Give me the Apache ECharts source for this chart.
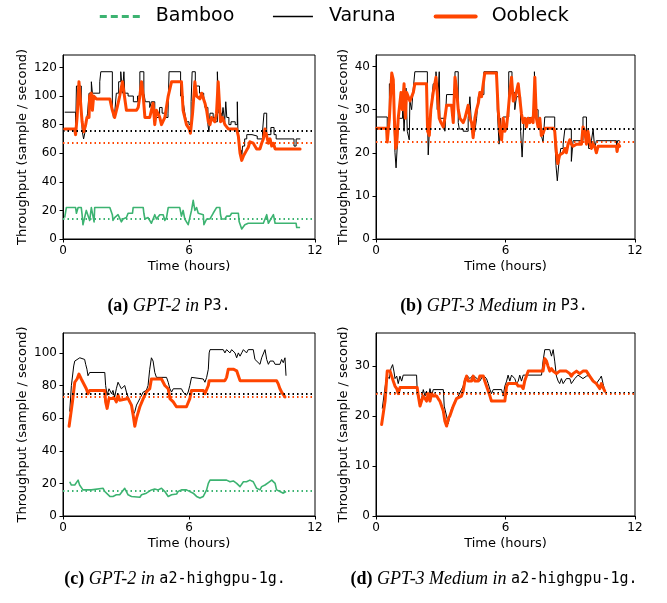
<!DOCTYPE html>
<html>
<head>
<meta charset="utf-8">
<script src="https://cdn.jsdelivr.net/npm/echarts@6/dist/echarts.min.js"></script>
<style>
html,body{margin:0;padding:0;background:#fff;}
#chart{width:667px;height:603px;}
</style>
</head>
<body>
<div id="chart"></div>
<script>
// ---------- data ----------
const seriesNames = ['Bamboo', 'Varuna', 'Oobleck'];
const xTicks = [0, 6, 12];

// (a) GPT-2 in P3
const aVaruna = [[0.08,88.7],[0.60,75],[0.64,107],[0.87,88],[0.92,75],[0.98,70],[1.05,75],[1.10,82],[1.17,88],[1.24,102],[1.35,110],[1.40,102],[1.75,110],[1.80,117],[2.35,92],[2.40,85],[2.46,88],[2.54,102],[2.65,110],[2.75,117],[2.83,102],[2.90,117],[2.94,102],[3.10,100],[3.35,96],[3.55,100],[3.66,117],[3.85,102],[3.92,96],[4.13,92],[4.21,96],[4.37,88],[4.45,85],[4.60,92],[4.72,88],[4.90,85],[5.00,88],[5.05,117],[5.60,100],[5.72,96],[5.80,88],[5.88,82],[6.00,80],[6.10,96],[6.15,117],[6.30,107],[6.50,102],[6.70,100],[6.76,92],[6.90,80],[6.95,75],[7.00,88],[7.15,85],[7.25,82],[7.35,117],[7.42,88],[7.55,82],[7.62,92],[7.70,82],[7.75,96],[7.80,85],[7.90,80],[8.00,82],[8.20,80],[8.30,96],[8.33,75],[8.40,62],[8.50,55],[8.55,65],[8.65,70],[8.75,73],[9.00,72],[9.25,70],[9.50,75],[9.57,88],[9.70,73],[9.90,78],[10.05,73],[10.15,70],[11.00,65],[11.10,70],[11.30,70]];
const aOobleck = [[0.08,77],[0.55,77],[0.60,73],[0.67,85],[0.76,110],[0.84,110],[0.91,82],[0.99,75],[1.08,80],[1.14,85],[1.24,85],[1.27,100],[1.35,102],[1.40,90],[1.46,100],[1.59,98],[2.23,98],[2.35,90],[2.46,85],[2.58,92],[2.70,100],[2.83,110],[2.91,110],[3.02,90],[3.50,90],[3.58,92],[3.66,100],[3.74,110],[3.82,100],[3.90,85],[4.13,85],[4.29,95],[4.37,80],[4.45,90],[4.61,85],[4.69,80],[4.85,85],[4.93,85],[5.01,100],[5.09,105],[5.17,110],[5.64,110],[5.72,90],[5.88,80],[6.01,77],[6.07,74],[6.17,88],[6.28,110],[6.36,100],[6.52,98],[6.60,102],[6.76,95],[6.84,90],[6.92,82],[7.00,80],[7.07,85],[7.23,82],[7.31,88],[7.39,110],[7.50,82],[7.60,85],[7.71,80],[7.87,77],[8.27,77],[8.35,72],[8.43,60],[8.51,55],[8.59,58],[8.74,62],[8.82,64],[8.90,68],[9.06,67],[9.22,63],[9.38,63],[9.46,67],[9.54,70],[9.62,77],[9.70,72],[9.78,67],[9.86,70],[9.94,65],[10.02,67],[10.10,63],[11.29,63]];
const aBamboo = [[0.08,15],[0.16,22],[0.60,22],[0.64,18],[0.72,22],[0.87,22],[0.91,17],[0.95,10],[1.03,15],[1.11,20],[1.19,20],[1.27,13],[1.35,22],[1.43,22],[1.48,12],[1.51,22],[2.23,22],[2.35,17],[2.38,13],[2.46,15],[2.54,15],[2.62,17],[2.70,17],[2.78,12],[2.86,14],[2.94,14],[3.02,15],[3.10,18],[3.31,18],[3.34,22],[3.82,22],[3.85,18],[3.90,14],[4.05,15],[4.13,15],[4.21,11],[4.29,14],[4.37,17],[4.45,14],[4.53,14],[4.61,17],[4.77,17],[4.85,13],[4.93,15],[5.01,22],[5.56,22],[5.64,16],[5.72,20],[5.80,14],[5.88,12],[5.96,10],[6.04,10],[6.12,20],[6.20,27],[6.28,20],[6.36,22],[6.44,18],[6.52,17],[6.68,17],[6.71,10],[6.84,14],[7.00,14],[7.07,15],[7.15,18],[7.31,22],[7.47,22],[7.50,17],[7.55,14],[7.71,14],[7.79,16],[7.95,16],[8.03,18],[8.35,18],[8.39,12],[8.51,7],[8.59,7],[8.66,10],[8.74,10],[8.82,11],[9.54,11],[9.62,14],[9.70,17],[9.78,11],[10.02,17],[10.10,11],[10.30,11],[11.10,11],[11.13,8],[11.29,8]];
const aMeans = [14.5, 75.5, 67];   // Bamboo, Varuna, Oobleck
const aYTicks = [0, 20, 40, 60, 80, 100, 120];

// (b) GPT-3 Medium in P3
const bVaruna = [[0.03,28.3],[0.52,25.5],[0.62,36],[0.83,28],[0.88,20],[0.93,16.5],[0.99,22],[1.03,28],[1.23,34],[1.30,25],[1.39,35],[1.45,25],[1.54,23],[1.57,32],[1.65,30],[1.73,35],[1.80,38.8],[2.38,30],[2.42,19.5],[2.50,28],[2.58,32],[2.65,36],[2.78,38.8],[2.84,30],[2.93,38.8],[2.96,28],[3.19,25],[3.27,33.5],[3.66,38.8],[3.81,27],[3.86,25.5],[4.04,25],[4.27,28],[4.35,33],[4.43,26],[4.50,23.5],[4.58,25],[4.66,28],[4.74,33],[4.81,33.5],[5.00,38.8],[5.62,30],[5.70,22],[5.77,28],[5.80,23],[5.89,28.3],[6.15,38.8],[6.30,34],[6.43,30],[6.51,33],[6.70,25],[6.77,19],[6.86,28],[6.97,28.3],[7.34,38.8],[7.40,30],[7.51,28],[7.59,26],[7.66,24],[7.74,22.5],[7.82,28.3],[8.28,24],[8.34,17],[8.40,13.5],[8.48,18],[8.56,21],[8.67,22],[8.75,25.5],[9.05,18],[9.13,22.8],[9.59,28.3],[9.75,23],[9.85,21],[9.98,22.8],[10.06,25.5],[10.13,21],[10.21,22.8],[11.14,20.5],[11.19,22.8],[11.29,22.8]];
const bOobleck = [[0.03,25.7],[0.49,25.7],[0.52,22.5],[0.62,28],[0.73,38.5],[0.80,37],[0.85,28],[0.91,21],[0.96,22],[1.03,28],[1.11,28],[1.16,34],[1.22,30],[1.30,36],[1.36,28],[1.42,34],[1.57,32],[1.65,33],[1.73,34],[1.80,36],[2.34,36],[2.39,25],[2.47,24],[2.54,30],[2.65,34],[2.78,37.5],[2.84,37.5],[2.93,28],[3.01,27],[3.12,26],[3.19,28],[3.27,31],[3.50,31],[3.58,27],[3.66,37.5],[3.73,35],[3.81,30],[3.89,28],[4.04,27],[4.12,28],[4.27,31],[4.35,28],[4.43,27],[4.50,23.5],[4.58,28],[4.66,30],[4.74,31.5],[4.81,34],[4.89,33],[4.97,36],[5.04,38.5],[5.58,38.5],[5.66,30],[5.74,25],[5.82,23],[5.89,28],[5.97,25],[6.05,26],[6.13,30],[6.20,34],[6.28,37.5],[6.36,32],[6.43,32.5],[6.59,36],[6.66,36],[6.74,29],[6.82,27],[6.90,28],[6.97,26],[7.05,28],[7.13,27],[7.20,28],[7.28,27],[7.36,37.5],[7.43,28],[7.51,26],[7.59,28],[7.66,24],[7.74,24.5],[7.82,25.7],[8.23,25.7],[8.28,25],[8.36,20],[8.42,17.5],[8.51,19.5],[8.67,20],[8.75,21],[8.82,20],[8.90,22],[8.98,23],[9.05,22],[9.13,21.5],[9.29,22],[9.52,22],[9.59,26],[9.67,25],[9.75,22],[9.82,25],[9.90,22.5],[9.98,21],[10.06,22],[10.13,21.5],[10.21,20],[10.29,21.5],[11.14,21.5],[11.17,20.3],[11.23,22],[11.29,21.5]];
const bMeans = [null, 25.6, 22.5];
const bYTicks = [0, 10, 20, 30, 40];

// (c) GPT-2 in a2-highgpu-1g
const cVaruna = [[0.32,64],[0.40,80],[0.51,92],[0.56,95],[0.64,96],[0.80,97],[1.03,96],[1.08,93],[1.14,90],[1.19,86],[1.27,88],[1.99,88],[2.03,80],[2.10,74],[2.19,78],[2.31,75],[2.38,77],[2.46,73],[2.54,78],[2.62,82],[2.70,80],[2.78,78],[2.86,78],[2.94,80],[3.02,76],[3.10,73],[3.18,73],[3.26,68],[3.34,62],[3.42,64],[3.50,68],[3.66,72],[3.82,76],[3.97,77],[4.05,80],[4.13,90],[4.21,97],[4.29,95],[4.37,88],[4.45,85],[4.53,85],[4.93,85],[5.01,82],[5.09,78],[5.17,76],[5.25,78],[5.64,78],[5.72,76],[5.88,74],[5.96,76],[6.04,80],[6.12,85],[6.20,84],[6.68,84],[6.76,82],[6.84,85],[6.92,90],[6.96,100],[7.00,102],[7.63,102],[7.71,100],[7.79,102],[7.95,100],[8.03,102],[8.11,102],[8.19,100],[8.27,97],[8.35,100],[8.43,98],[8.51,100],[8.59,102],[8.74,100],[8.82,102],[9.06,102],[9.14,96],[9.22,95],[9.38,93],[9.46,97],[9.54,98],[9.62,102],[9.70,96],[9.78,93],[9.86,95],[10.02,95],[10.10,93],[10.33,93],[10.41,96],[10.49,94],[10.57,97],[10.62,86]];
const cOobleck = [[0.29,55],[0.35,55],[0.45,70],[0.56,82],[0.67,84],[0.76,87],[0.87,84],[1.03,80],[1.11,78],[1.19,75],[1.27,77],[1.99,77],[2.03,70],[2.10,66],[2.19,72],[2.31,72],[2.38,71],[2.46,72],[2.54,70],[2.62,74],[2.70,71],[2.78,72],[3.10,72],[3.18,71],[3.26,68],[3.34,62],[3.42,55],[3.50,60],[3.66,67],[3.82,72],[3.97,76],[4.13,78],[4.21,84],[4.69,84],[4.85,80],[5.01,78],[5.09,72],[5.25,70],[5.40,67],[5.88,67],[5.96,67],[6.04,72],[6.12,77],[6.68,77],[6.76,75],[6.92,80],[6.96,83],[7.71,83],[7.79,85],[7.87,90],[7.95,91],[8.11,90],[8.27,89],[8.35,86],[8.43,83],[9.06,83],[9.14,84],[9.22,83],[10.17,83],[10.25,81],[10.33,78],[10.41,76],[10.49,75],[10.57,73]];
const cBamboo = [[0.32,21],[0.40,19],[0.56,19],[0.64,20],[0.72,22],[0.79,19],[0.95,16],[1.11,16],[1.19,15],[1.35,16],[1.43,17],[1.91,17],[1.99,15],[2.07,14],[2.23,12],[2.31,11],[2.38,12],[2.46,11.5],[2.54,13],[2.70,13],[2.78,14],[2.94,17],[3.02,16.5],[3.10,13],[3.26,12],[3.34,11.5],[3.66,11.5],[3.74,13],[3.82,14],[3.97,14],[4.05,15],[4.21,16],[4.37,16.5],[4.53,16],[4.69,17],[4.85,15],[5.01,12],[5.09,12],[5.17,13],[5.25,13.5],[5.41,13.5],[5.48,15],[5.56,14],[5.64,16],[5.88,16],[5.96,15],[6.20,14],[6.36,12],[6.52,11],[6.68,12],[6.84,16],[6.92,20],[7.00,22],[7.63,22],[7.71,21],[7.79,22],[7.95,21],[8.11,21.5],[8.27,20],[8.43,18],[8.59,21],[8.74,21],[8.90,22],[9.06,21],[9.22,17],[9.38,16],[9.46,18],[9.62,19],[9.70,20],[9.78,20.5],[9.94,22],[10.02,22],[10.10,20],[10.17,16],[10.25,16],[10.33,15],[10.41,16],[10.49,14],[10.62,15]];
const cMeans = [15.3, 75.1, 73];
const cYTicks = [0, 20, 40, 60, 80, 100];

// (d) GPT-3 Medium in a2-highgpu-1g
const dVaruna = [[0.29,21.5],[0.49,28],[0.62,27.5],[0.69,29.5],[0.77,30.3],[0.83,29],[0.88,27.5],[0.96,28],[1.03,26.5],[1.11,28],[1.19,27],[1.26,28.2],[1.88,28.2],[1.91,25],[2.04,23],[2.11,23.5],[2.19,25.3],[2.27,24],[2.34,25],[2.42,23.5],[2.50,25.5],[2.58,24],[2.65,25.3],[3.12,25.3],[3.16,22],[3.27,20],[3.35,18.5],[3.42,20],[3.50,21.5],[3.66,23],[3.81,24],[3.96,25.3],[4.04,26],[4.12,27.5],[4.20,28.2],[4.35,27.5],[4.50,28.2],[4.81,27],[4.97,28.2],[5.12,27.5],[5.20,26.5],[5.28,25.3],[5.35,24.5],[5.43,25.3],[5.82,25.3],[5.89,24],[5.97,26],[6.05,27],[6.12,28.2],[6.20,27],[6.28,28.2],[6.43,27.5],[6.51,26.5],[6.59,27],[6.66,28.2],[6.74,27],[6.82,28.2],[7.67,28.2],[7.74,31],[7.82,33.3],[8.05,33.3],[8.13,32],[8.21,33.3],[8.28,31],[8.36,28],[8.44,27],[8.51,26.5],[8.59,27.5],[8.67,26.5],[8.82,27.5],[8.98,27.5],[9.05,26.5],[9.13,27],[9.21,27.5],[9.36,28.2],[9.59,27.5],[9.75,28],[9.90,28.2],[10.06,27],[10.21,26.5],[10.37,27.5],[10.44,28],[10.52,26.5],[10.60,25]];
const dOobleck = [[0.26,18.3],[0.34,18],[0.42,23],[0.52,29],[0.65,29],[0.72,29.3],[0.80,27],[0.88,26],[0.96,25.5],[1.03,24.5],[1.11,25.7],[1.91,25.7],[1.96,24],[2.04,22],[2.11,23],[2.19,24],[2.27,23.5],[2.34,23],[2.42,24.5],[2.50,23],[2.58,24.5],[2.65,24],[2.81,24],[2.88,23.5],[2.96,23],[3.12,21],[3.19,19],[3.27,18],[3.35,19.5],[3.42,20],[3.50,21],[3.58,22],[3.73,23.5],[3.96,24],[4.04,25],[4.12,27],[4.20,28],[4.27,27],[4.43,27],[4.50,28],[4.58,27],[4.74,27],[4.81,28],[4.97,28],[5.04,27],[5.12,26],[5.28,24],[5.35,23],[5.43,22.8],[5.51,23],[5.97,23],[6.05,26],[6.12,26.5],[6.51,26.5],[6.59,26],[6.74,26],[6.82,25.5],[6.89,27],[6.97,28],[7.05,29],[7.74,29],[7.82,31.5],[7.90,31],[7.97,30],[8.05,29],[8.13,29.5],[8.21,29],[8.36,28.5],[8.51,29],[8.82,29],[8.98,28.5],[9.05,28],[9.13,28.5],[9.29,29],[9.44,28.5],[9.59,29],[9.75,29],[9.90,28],[10.06,27],[10.21,26.5],[10.29,26],[10.37,25.5],[10.44,26.5],[10.60,25]];
const dMeans = [null, 24.6, 24.4];
const dYTicks = [0, 10, 20, 30];

const captions = [
  ['(a)', 'GPT-2 in', 'P3.'],
  ['(b)', 'GPT-3 Medium in', 'P3.'],
  ['(c)', 'GPT-2 in', 'a2-highgpu-1g.'],
  ['(d)', 'GPT-3 Medium in', 'a2-highgpu-1g.']
];

// ---------- layout / style ----------
const COLORS = { Bamboo: '#3CB371', Varuna: '#000000', Oobleck: '#FF4500' };
const panels = [
  { grid: {left: 63, top: 55, width: 252, height: 184}, varuna: aVaruna, oobleck: aOobleck, bamboo: aBamboo, means: aMeans, yTicks: aYTicks, step: true, nameGap: 34, cap: {x: 164, y: 292} },
  { grid: {left: 376, top: 55, width: 259, height: 184}, varuna: bVaruna, oobleck: bOobleck, bamboo: null, means: bMeans, yTicks: bYTicks, step: true, nameGap: 26, cap: {x: 489, y: 292} },
  { grid: {left: 63, top: 333, width: 252, height: 183}, varuna: cVaruna, oobleck: cOobleck, bamboo: cBamboo, means: cMeans, yTicks: cYTicks, step: false, nameGap: 34, cap: {x: 170, y: 565} },
  { grid: {left: 376, top: 333, width: 259, height: 183}, varuna: dVaruna, oobleck: dOobleck, bamboo: null, means: dMeans, yTicks: dYTicks, step: false, nameGap: 26, cap: {x: 489, y: 565} }
];

function peak(arrs) {
  let m = 0;
  arrs.forEach(a => { if (a) a.forEach(p => { if (p[1] > m) m = p[1]; }); });
  return m;
}

const FONT = 'DejaVu Sans';
const grids = [], xAxes = [], yAxes = [], series = [], titles = [];

panels.forEach((p, i) => {
  grids.push(Object.assign({ show: true, borderColor: '#000', borderWidth: 1, backgroundColor: 'transparent' }, p.grid));
  xAxes.push({
    type: 'value', gridIndex: i, min: 0, max: 12, interval: 6,
    name: 'Time (hours)', nameLocation: 'middle', nameGap: 21,
    nameTextStyle: { fontFamily: FONT, fontSize: 13, color: '#000' },
    axisLine: { show: true, onZero: false, lineStyle: { color: '#000', width: 1 } },
    axisTick: { show: true, inside: false, length: 3.5, lineStyle: { color: '#000' }, customValues: xTicks },
    axisLabel: { fontFamily: FONT, fontSize: 12, color: '#000', margin: 6, customValues: xTicks },
    splitLine: { show: false }
  });
  const yMax = peak([p.varuna, p.oobleck, p.bamboo]) * 1.1;
  yAxes.push({
    type: 'value', gridIndex: i, min: 0, max: yMax,
    name: 'Throughput (sample / second)', nameLocation: 'middle', nameGap: p.nameGap,
    nameTextStyle: { fontFamily: FONT, fontSize: 13, color: '#000' },
    axisLine: { show: true, onZero: false, lineStyle: { color: '#000', width: 1 } },
    axisTick: { show: true, inside: false, length: 3.5, lineStyle: { color: '#000' }, customValues: p.yTicks },
    axisLabel: { fontFamily: FONT, fontSize: 12, color: '#000', margin: 6, customValues: p.yTicks },
    splitLine: { show: false }
  });

  const meanLine = (v, color) => (v == null ? undefined : {
    silent: true, symbol: 'none', label: { show: false },
    lineStyle: { type: [1.5, 3], width: 1.8, color: color },
    emphasis: { disabled: true },
    data: [{ yAxis: v }]
  });

  if (p.bamboo) {
    series.push({
      name: 'Bamboo', type: 'line', xAxisIndex: i, yAxisIndex: i, data: p.bamboo,
      showSymbol: false, symbol: 'none', animation: false, z: 2,
      lineStyle: { color: COLORS.Bamboo, width: 1.6, join: 'round' }, itemStyle: { color: COLORS.Bamboo },
      markLine: meanLine(p.means[0], COLORS.Bamboo)
    });
  }
  series.push({
    name: 'Varuna', type: 'line', xAxisIndex: i, yAxisIndex: i, data: p.varuna,
    step: p.step ? 'end' : false,
    showSymbol: false, symbol: 'none', animation: false, z: 3,
    lineStyle: { color: COLORS.Varuna, width: 1, join: 'round' }, itemStyle: { color: COLORS.Varuna },
    markLine: meanLine(p.means[1], COLORS.Varuna)
  });
  series.push({
    name: 'Oobleck', type: 'line', xAxisIndex: i, yAxisIndex: i, data: p.oobleck,
    showSymbol: false, symbol: 'none', animation: false, z: 4,
    lineStyle: { color: COLORS.Oobleck, width: 3, join: 'round', cap: 'round' }, itemStyle: { color: COLORS.Oobleck },
    markLine: meanLine(p.means[2], COLORS.Oobleck)
  });

  const c = captions[i];
  titles.push({
    left: p.cap.x, top: p.cap.y, textAlign: 'center',
    text: '{b|' + c[0] + '} {i|' + c[1] + '} {m|' + c[2] + '}',
    textStyle: {
      fontWeight: 'normal', fontFamily: 'Liberation Serif', fontSize: 18, color: '#000',
      rich: {
        b: { fontFamily: 'Liberation Serif', fontWeight: 'bold', fontSize: 18, color: '#000' },
        i: { fontFamily: 'Liberation Serif', fontStyle: 'italic', fontWeight: 'normal', fontSize: 18, color: '#000' },
        m: { fontFamily: 'DejaVu Sans Mono', fontWeight: 'normal', fontSize: 15, color: '#000' }
      }
    }
  });
});

const chart = echarts.init(document.getElementById('chart'), null, { renderer: 'canvas' });
chart.setOption({
  backgroundColor: '#fff',
  animation: false,
  title: titles,
  legend: {
    show: true, top: 2, left: 'center', orient: 'horizontal',
    itemWidth: 40, itemHeight: 12, itemGap: 38,
    textStyle: { fontFamily: FONT, fontSize: 19, color: '#000', padding: [0, 0, 0, 11] },
    data: [
      { name: 'Bamboo', itemStyle: { opacity: 0 }, lineStyle: { type: [7, 4], width: 3, color: COLORS.Bamboo } },
      { name: 'Varuna', itemStyle: { opacity: 0 }, lineStyle: { width: 1.3, color: COLORS.Varuna } },
      { name: 'Oobleck', itemStyle: { opacity: 0 }, lineStyle: { width: 4, color: COLORS.Oobleck } }
    ]
  },
  grid: grids,
  xAxis: xAxes,
  yAxis: yAxes,
  series: series
});
</script>
</body>
</html>
